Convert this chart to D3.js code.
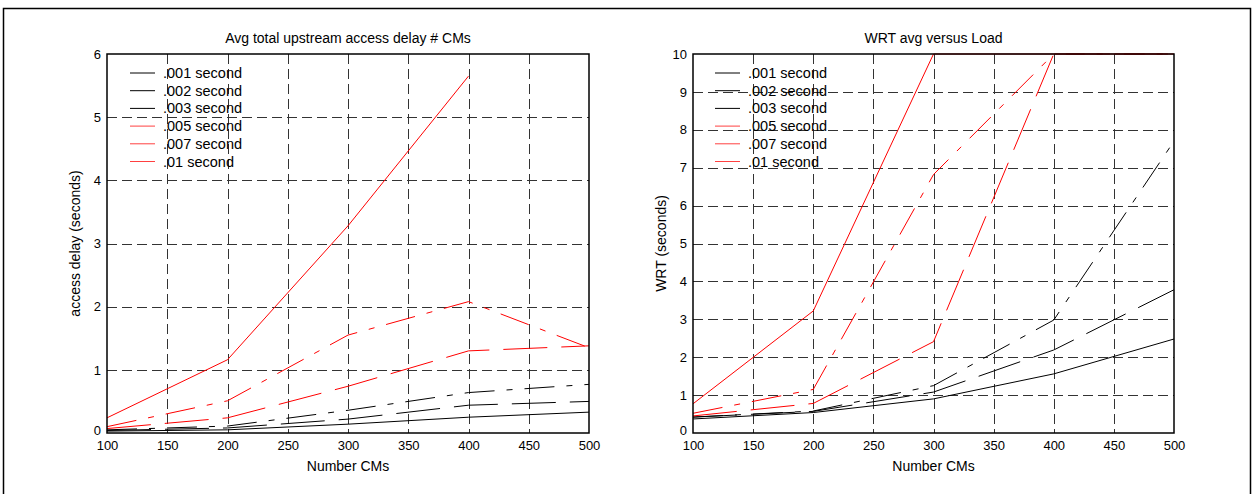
<!DOCTYPE html>
<html><head><meta charset="utf-8">
<script src="https://cdn.jsdelivr.net/npm/d3@7"></script>
<style>
body{margin:0;background:#fff;}
text{font-family:"Liberation Sans",Arial,sans-serif;fill:#000;}
</style></head>
<body><svg id="c" width="1255" height="494"></svg>
<script>
const xValues = [100, 200, 300, 400, 500];
const xTicks = [100, 150, 200, 250, 300, 350, 400, 450, 500];
const seriesLabels = [".001 second", ".002 second", ".003 second", ".005 second", ".007 second", ".01 second"];
const seriesColors = ["#000", "#000", "#000", "#ff0000", "#ff0000", "#ff0000"];
const seriesDash = [null, "44,14", "30,12,6,12", "44,14", "30,12,6,12", null];

// Left chart: access delay (seconds)
const delay001 = [0.03, 0.05, 0.14, 0.25, 0.33];
const delay002 = [0.04, 0.08, 0.22, 0.44, 0.50];
const delay003 = [0.05, 0.11, 0.36, 0.64, 0.77];
const delay005 = [0.07, 0.24, 0.74, 1.30, 1.38];
const delay007 = [0.10, 0.51, 1.55, 2.08, 1.35];
const delay01  = [0.24, 1.16, 3.28, 5.65, null];
const delayTicks = [0, 1, 2, 3, 4, 5, 6];

// Right chart: WRT (seconds)
const wrt001 = [0.37, 0.54, 0.90, 1.56, 2.48];
const wrt002 = [0.42, 0.57, 1.08, 2.19, 3.78];
const wrt003 = [0.42, 0.58, 1.25, 2.98, 7.70];
const wrt005 = [0.45, 0.78, 2.41, 10, 10];
const wrt007 = [0.52, 1.15, 6.82, 10, 10];
const wrt01  = [0.77, 3.22, 10, 10, 10];
const wrtTicks = [0, 1, 2, 3, 4, 5, 6, 7, 8, 9, 10];

const svg = d3.select("#c");
svg.append("rect").attr("x", 3.5).attr("y", 8.5).attr("width", 1247).attr("height", 520)
  .attr("fill", "none").attr("stroke", "#000").attr("stroke-width", 1.5);

function drawChart(cfg) {
  const {left, right, top, bottom, yMax, yTicks, series, title, ylabel} = cfg;
  const x = d3.scaleLinear().domain([100, 500]).range([left, right]);
  const y = d3.scaleLinear().domain([0, yMax]).range([bottom, top]);
  const g = svg.append("g");

  // grid
  g.append("g").selectAll("line").data(xTicks.slice(1, -1)).join("line")
    .attr("x1", d => Math.round(x(d)) + 0.5).attr("x2", d => Math.round(x(d)) + 0.5)
    .attr("y1", top).attr("y2", bottom)
    .attr("stroke", "#333").attr("stroke-dasharray", "10,5");
  g.append("g").selectAll("line").data(yTicks.slice(1, -1)).join("line")
    .attr("y1", d => Math.round(y(d)) + 0.5).attr("y2", d => Math.round(y(d)) + 0.5)
    .attr("x1", left).attr("x2", right)
    .attr("stroke", "#333").attr("stroke-dasharray", "10,5");

  // axes
  const xAxis = d3.axisBottom(x).tickValues(xTicks).tickFormat(d3.format("d")).tickSize(0).tickPadding(8);
  const ax = g.append("g").attr("transform", `translate(0,${bottom})`).call(xAxis);
  ax.select(".domain").remove();
  ax.selectAll("text").attr("font-size", 13).style("font-family", "Liberation Sans, Arial, sans-serif");
  const yAxis = d3.axisLeft(y).tickValues(yTicks).tickFormat(d3.format("d")).tickSize(0).tickPadding(6);
  const ay = g.append("g").attr("transform", `translate(${left},0)`).call(yAxis);
  ay.select(".domain").remove();
  ay.selectAll("text").attr("font-size", 13).style("font-family", "Liberation Sans, Arial, sans-serif");
  ay.selectAll(".tick").filter(d => d === 0).select("text").attr("dy", "0.1em");

  // series
  const line = d3.line().defined(d => d[1] != null).x(d => x(d[0])).y(d => y(d[1]));
  series.forEach((vals, i) => {
    g.append("path").datum(xValues.map((xv, j) => [xv, vals[j]]))
      .attr("d", line).attr("fill", "none")
      .attr("stroke", seriesColors[i]).attr("stroke-width", 1)
      .attr("stroke-dasharray", seriesDash[i]);
  });

  // box
  g.append("rect").attr("x", left).attr("y", top).attr("width", right - left).attr("height", bottom - top)
    .attr("fill", "none").attr("stroke", "#000").attr("stroke-width", 1.5);

  // legend
  seriesLabels.forEach((lab, i) => {
    const ly = top + 19 + i * 17.7;
    g.append("line").attr("x1", left + cfg.legX).attr("x2", left + cfg.legX + 25)
      .attr("y1", ly).attr("y2", ly).attr("stroke", seriesColors[i]).attr("stroke-width", 1)
      .attr("stroke-opacity", i >= 3 ? 0.75 : 1);
    g.append("text").attr("x", left + cfg.legX + 33).attr("y", ly + 5)
      .attr("font-size", 14.5).text(lab);
  });

  // titles
  g.append("text").attr("x", (left + right) / 2).attr("y", top - 11).attr("text-anchor", "middle")
    .attr("font-size", 14).text(title);
  g.append("text").attr("x", (left + right) / 2).attr("y", bottom + 38).attr("text-anchor", "middle")
    .attr("font-size", 14).text("Number CMs");
  g.append("text").attr("transform", `translate(${left - 27},${(top + bottom) / 2}) rotate(-90)`)
    .attr("text-anchor", "middle").attr("font-size", 14).text(ylabel);
}

drawChart({left: 107, right: 589, top: 54, bottom: 433, yMax: 6, yTicks: delayTicks,
  series: [delay001, delay002, delay003, delay005, delay007, delay01],
  title: "Avg total upstream access delay # CMs", ylabel: "access delay (seconds)", legX: 23});
drawChart({left: 693, right: 1174, top: 54, bottom: 433, yMax: 10, yTicks: wrtTicks,
  series: [wrt001, wrt002, wrt003, wrt005, wrt007, wrt01],
  title: "WRT avg versus Load", ylabel: "WRT (seconds)", legX: 22});
</script></body></html>
